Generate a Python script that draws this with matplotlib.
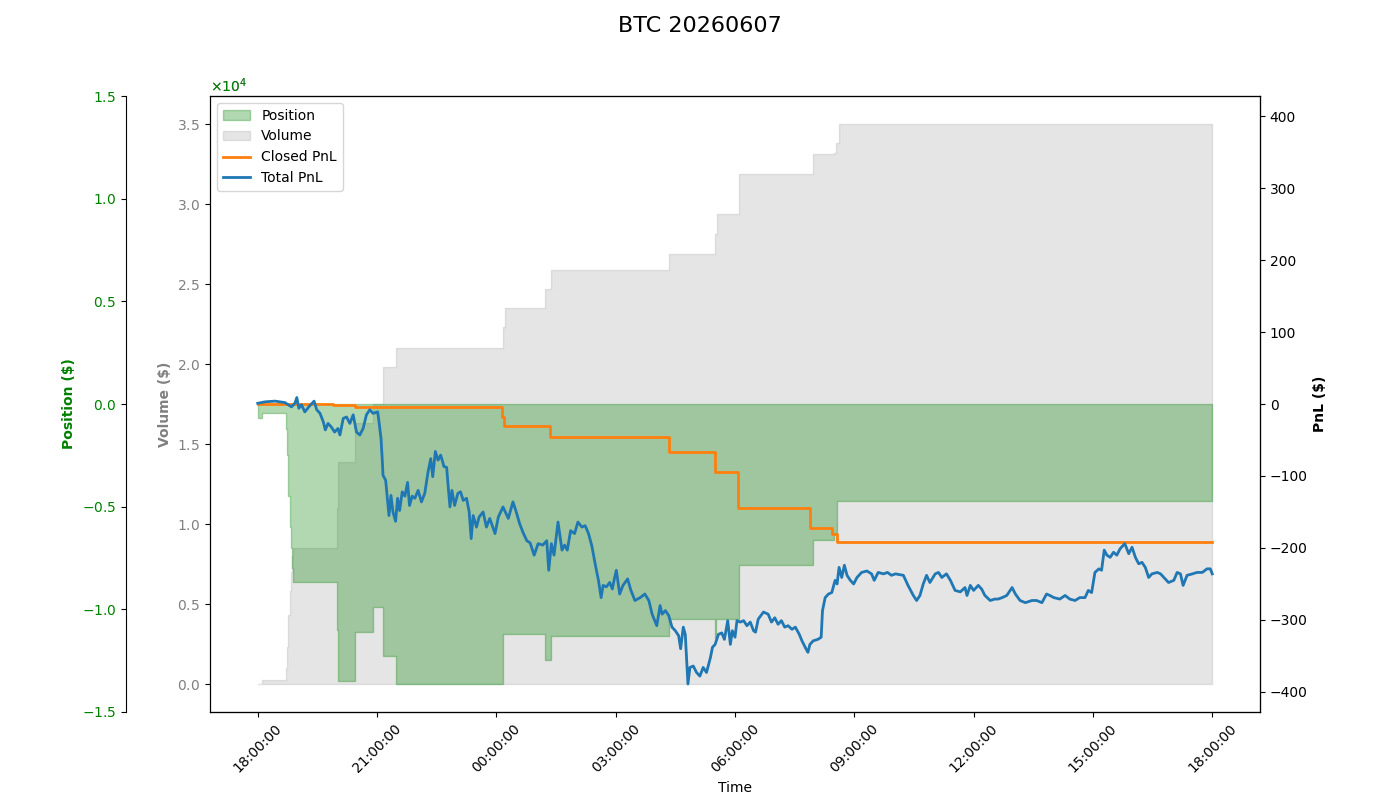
import numpy as np
import pandas as pd
import matplotlib
matplotlib.use('Agg')
import matplotlib.pyplot as plt
import matplotlib.dates as mdates

start = pd.Timestamp('2026-06-06 18:00:00')
title = 'BTC 20260607'

# position ($), events: minutes after start -> value
pos_min = [0, 6, 42, 44, 46, 48, 50, 52, 53, 119, 121, 146, 174, 189, 208,
           370, 434, 443, 621, 690, 691, 726, 837, 869, 874, 1440]
pos_val = [-700, -455, -1200, -2500, -4500, -6000, -7000, -8000, -8700, -11000, -13500,
           -11100, -9900, -12300, -13650, -11200, -12500, -11300, -10470, -11400,
           -10470, -7870, -6640, -6300, -4720, -4720]

# cumulative traded volume ($)
vol_min = [0, 6, 42, 44, 46, 48, 50, 52, 53, 119, 121, 146, 174, 189, 208,
           370, 373, 434, 443, 621, 690, 693, 726, 837, 869, 873, 877, 1440]
vol_val = [0, 250, 1000, 2300, 4300, 5800, 7000, 8000, 8500, 11000, 13900, 16300,
           17500, 19800, 21000, 22300, 23500, 24700, 25900, 26900, 28100, 29400,
           31900, 33100, 33200, 33800, 35000, 35000]

# closed pnl ($)
closed_min = [0, 114, 146, 368, 371, 441, 621, 690, 724, 833, 866, 874, 1440]
closed_val = [0, -1.5, -4.5, -17.6, -31, -46.4, -66.4, -94.3, -144.5, -172.4, -180, -192, -192]

# total pnl ($)
total_min = [0, 11, 26, 41, 51, 56, 59, 62, 66, 71, 78, 85, 89, 94, 99, 102, 106, 111,
             116, 121, 124, 129, 134, 139, 144, 149, 154, 159, 164, 169, 174, 181, 183,
             186, 188, 189, 193, 196, 198, 201, 204, 208, 211, 214, 218, 222, 226, 229,
             233, 237, 242, 247, 252, 257, 261, 264, 268, 272, 276, 281, 285, 287, 290,
             293, 297, 302, 306, 310, 315, 319, 322, 325, 330, 334, 340, 345, 350, 358,
             363, 370, 378, 385, 390, 395, 400, 406, 411, 417, 423, 430, 436, 439, 443,
             447, 453, 459, 463, 467, 472, 478, 483, 489, 494, 499, 504, 509, 514, 518,
             521, 526, 531, 535, 538, 541, 546, 551, 558, 563, 569, 577, 584, 590, 595,
             602, 607, 610, 615, 620, 625, 630, 635, 638, 642, 645, 649, 652, 657, 662,
             667, 672, 677, 683, 686, 690, 695, 700, 704, 709, 713, 716, 720, 723, 728,
             733, 738, 743, 748, 751, 755, 763, 770, 775, 780, 785, 790, 795, 800, 806,
             811, 817, 821, 827, 830, 833, 838, 845, 850, 852, 856, 861, 866, 871, 874,
             877, 881, 885, 889, 894, 899, 904, 911, 919, 926, 930, 936, 944, 950, 956,
             962, 974, 981, 989, 994, 999, 1004, 1009, 1014, 1022, 1027, 1032, 1039,
             1045, 1052, 1060, 1067, 1070, 1075, 1080, 1087, 1092, 1097, 1105, 1112,
             1117, 1123, 1130, 1138, 1143, 1150, 1158, 1168, 1175, 1183, 1190, 1195,
             1201, 1210, 1218, 1225, 1233, 1240, 1248, 1253, 1258, 1263, 1269, 1273,
             1277, 1281, 1286, 1291, 1296, 1301, 1308, 1311, 1314, 1319, 1324, 1329,
             1334, 1339, 1344, 1349, 1357, 1362, 1369, 1374, 1382, 1387, 1392, 1396,
             1402, 1410, 1417, 1425, 1432, 1437, 1440]
total_val = [1, 3, 4, 2, -4, 1, 9, -6, -1, -11, -3, 4, -8, -13, -25, -36, -27, -32,
             -39, -34, -43, -20, -18, -27, -15, -39, -43, -34, -15, -8, -13, -11, -25,
             -48, -80, -99, -106, -136, -155, -127, -150, -163, -131, -148, -122, -128,
             -109, -141, -128, -131, -120, -136, -124, -94, -76, -101, -66, -78, -71,
             -87, -88, -111, -143, -120, -141, -124, -122, -134, -131, -150, -187, -155,
             -171, -157, -150, -171, -159, -180, -157, -143, -159, -136, -150, -166,
             -178, -190, -193, -210, -194, -196, -190, -231, -194, -210, -164, -203,
             -196, -203, -176, -180, -164, -171, -169, -180, -197, -222, -245, -269,
             -252, -254, -248, -257, -243, -231, -264, -252, -243, -259, -273, -269,
             -264, -273, -292, -308, -280, -292, -287, -294, -310, -315, -322, -340,
             -310, -320, -389, -366, -364, -373, -378, -366, -373, -352, -338, -334,
             -320, -318, -327, -301, -334, -315, -324, -301, -303, -301, -308, -303,
             -315, -317, -299, -289, -292, -303, -297, -306, -301, -310, -308, -313,
             -310, -320, -329, -340, -345, -334, -329, -327, -324, -287, -269, -264,
             -262, -245, -250, -227, -241, -224, -238, -245, -250, -241, -234, -232,
             -236, -245, -234, -236, -234, -238, -236, -238, -252, -266, -273, -266,
             -250, -238, -248, -236, -234, -241, -236, -245, -259, -261, -255, -266,
             -252, -259, -252, -257, -266, -273, -271, -271, -269, -266, -255, -264,
             -273, -276, -273, -273, -276, -264, -266, -269, -271, -266, -271, -273,
             -269, -269, -259, -262, -234, -229, -231, -203, -210, -213, -206, -210,
             -201, -194, -201, -208, -199, -213, -222, -220, -227, -241, -236, -234,
             -236, -243, -248, -245, -234, -236, -252, -238, -236, -234, -234, -229,
             -229, -236]


def to_time(minutes):
    return start + pd.to_timedelta(minutes, unit='m')


fig, ax = plt.subplots(figsize=(14, 8), dpi=100)
fig.subplots_adjust(left=0.15, right=0.9, top=0.88, bottom=0.11)
ax3 = ax.twinx()
ax2 = ax.twinx()

# volume on the main axis
ax.fill_between(to_time(vol_min), 0, vol_val, step='post', color='gray', alpha=0.2, label='Volume')
ax.set_ylabel('Volume ($)', color='gray', fontweight='bold')
ax.tick_params(axis='y', labelcolor='gray')
ax.ticklabel_format(axis='y', style='sci', scilimits=(0, 0), useMathText=True)
ax.set_xlabel('Time')

# position on an offset left axis
ax3.fill_between(to_time(pos_min), 0, pos_val, step='post', color='green', alpha=0.3, label='Position')
ax3.spines['left'].set_position(('axes', -0.08))
ax3.spines['left'].set_visible(True)
ax3.yaxis.set_label_position('left')
ax3.yaxis.set_ticks_position('left')
ax3.set_ylabel('Position ($)', color='green', fontweight='bold')
ax3.tick_params(axis='y', labelcolor='green')
ax3.ticklabel_format(axis='y', style='sci', scilimits=(0, 0), useMathText=True)
ax3.yaxis.get_offset_text().set_color('green')
pos_lim = max(abs(v) for v in pos_val) * 1.1
ax3.set_ylim(-pos_lim, pos_lim)

# pnl on the right axis
ax2.plot(to_time(closed_min), closed_val, drawstyle='steps-post', color='tab:orange', lw=2, label='Closed PnL')
ax2.plot(to_time(total_min), total_val, color='tab:blue', lw=2, label='Total PnL')
ax2.set_ylabel('PnL ($)', fontweight='bold')
pnl_lim = max(abs(v) for v in total_val) * 1.1
ax2.set_ylim(-pnl_lim, pnl_lim)

ax.xaxis.set_major_locator(mdates.HourLocator(byhour=range(0, 24, 3)))
ax.xaxis.set_major_formatter(mdates.DateFormatter('%H:%M:%S'))
for lbl in ax.get_xticklabels():
    lbl.set_rotation(45)

handles = []
labels = []
for a in (ax3, ax, ax2):
    h, l = a.get_legend_handles_labels()
    handles += h
    labels += l
ax2.legend(handles, labels, loc='upper left')

fig.suptitle(title, fontsize=16)
fig.savefig('out.png', dpi=100)
